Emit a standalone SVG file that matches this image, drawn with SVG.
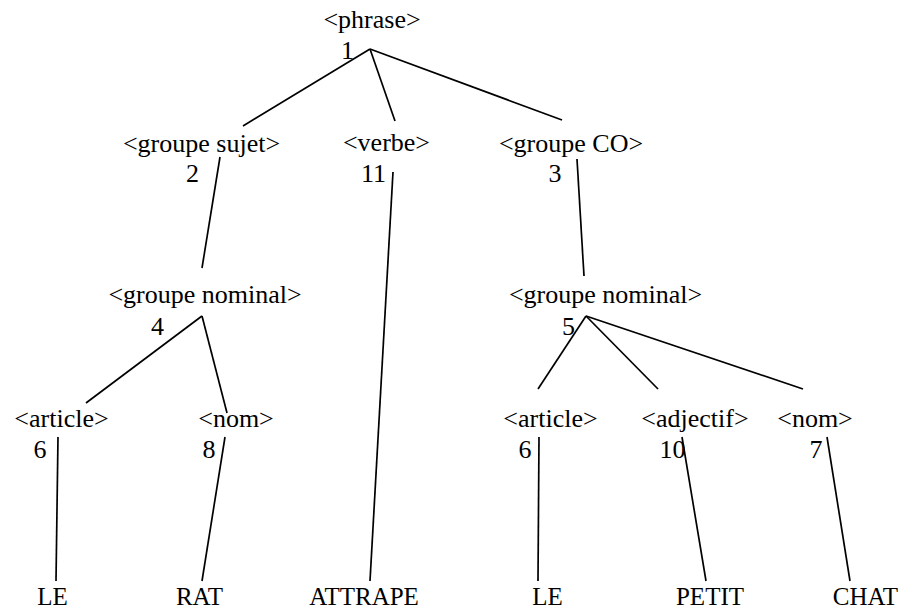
<svg xmlns="http://www.w3.org/2000/svg" width="905" height="613" viewBox="0 0 905 613">
  <style>
    .lbl { font-size: 26px; fill: #000; text-anchor: middle; }
    .word { font-size: 25px; fill: #000; text-anchor: middle; }
    .edge { stroke: #000; stroke-width: 1.7; fill: none; stroke-linecap: butt; }
  </style>
  <rect width="905" height="613" fill="#fff"/>

  <!-- connectors of the parse tree -->
  <g id="connectors">
    <line class="edge" x1="370" y1="49" x2="243" y2="126"/>
    <line class="edge" x1="370" y1="49" x2="395" y2="121"/>
    <line class="edge" x1="370" y1="49" x2="562" y2="120"/>
    <line class="edge" x1="220" y1="157" x2="202" y2="268"/>
    <line class="edge" x1="393" y1="172" x2="370" y2="581"/>
    <line class="edge" x1="577" y1="159" x2="584" y2="276"/>
    <line class="edge" x1="202" y1="316" x2="86" y2="403"/>
    <line class="edge" x1="202" y1="316" x2="227" y2="413"/>
    <line class="edge" x1="586" y1="316" x2="538" y2="389"/>
    <line class="edge" x1="586" y1="316" x2="658" y2="389"/>
    <line class="edge" x1="586" y1="316" x2="803" y2="389"/>
    <line class="edge" x1="58" y1="437" x2="56" y2="581"/>
    <line class="edge" x1="225" y1="437" x2="202" y2="581"/>
    <line class="edge" x1="539" y1="437" x2="538" y2="581"/>
    <line class="edge" x1="682" y1="437" x2="706" y2="581"/>
    <line class="edge" x1="827" y1="437" x2="850" y2="581"/>
  </g>

  <g font-family="Liberation Serif, Times New Roman, Tinos, Noto Serif, DejaVu Serif, serif">
    <!-- nonterminal nodes -->
    <g id="n-phrase"><text class="lbl" x="372" y="28">&lt;phrase&gt;</text><text class="lbl" x="347.5" y="59">1</text></g>
    <g id="n-groupe-sujet"><text class="lbl" x="201.5" y="152">&lt;groupe sujet&gt;</text><text class="lbl" x="192.5" y="182">2</text></g>
    <g id="n-verbe"><text class="lbl" x="386.5" y="151">&lt;verbe&gt;</text><text class="lbl" x="373.5" y="182">11</text></g>
    <g id="n-groupe-co"><text class="lbl" x="571" y="152">&lt;groupe CO&gt;</text><text class="lbl" x="555" y="182">3</text></g>
    <g id="n-groupe-nominal-4"><text class="lbl" x="205" y="303">&lt;groupe nominal&gt;</text><text class="lbl" x="157.5" y="335">4</text></g>
    <g id="n-groupe-nominal-5"><text class="lbl" x="605.5" y="303">&lt;groupe nominal&gt;</text><text class="lbl" x="568.5" y="335">5</text></g>
    <g id="n-article-l"><text class="lbl" x="61.5" y="427">&lt;article&gt;</text><text class="lbl" x="40" y="458">6</text></g>
    <g id="n-nom-l"><text class="lbl" x="236" y="427">&lt;nom&gt;</text><text class="lbl" x="209" y="458">8</text></g>
    <g id="n-article-r"><text class="lbl" x="550.5" y="427">&lt;article&gt;</text><text class="lbl" x="525" y="458">6</text></g>
    <g id="n-adjectif"><text class="lbl" x="695" y="427">&lt;adjectif&gt;</text><text class="lbl" x="672.5" y="458">10</text></g>
    <g id="n-nom-r"><text class="lbl" x="815" y="427">&lt;nom&gt;</text><text class="lbl" x="816" y="458">7</text></g>

    <!-- terminal words -->
    <g id="w-le-1"><text class="word" x="52.5" y="605">LE</text></g>
    <g id="w-rat"><text class="word" x="199.5" y="605">RAT</text></g>
    <g id="w-attrape"><text class="word" x="364" y="605">ATTRAPE</text></g>
    <g id="w-le-2"><text class="word" x="547.5" y="605">LE</text></g>
    <g id="w-petit"><text class="word" x="710" y="605">PETIT</text></g>
    <g id="w-chat"><text class="word" x="865.5" y="605">CHAT</text></g>
  </g>
</svg>
